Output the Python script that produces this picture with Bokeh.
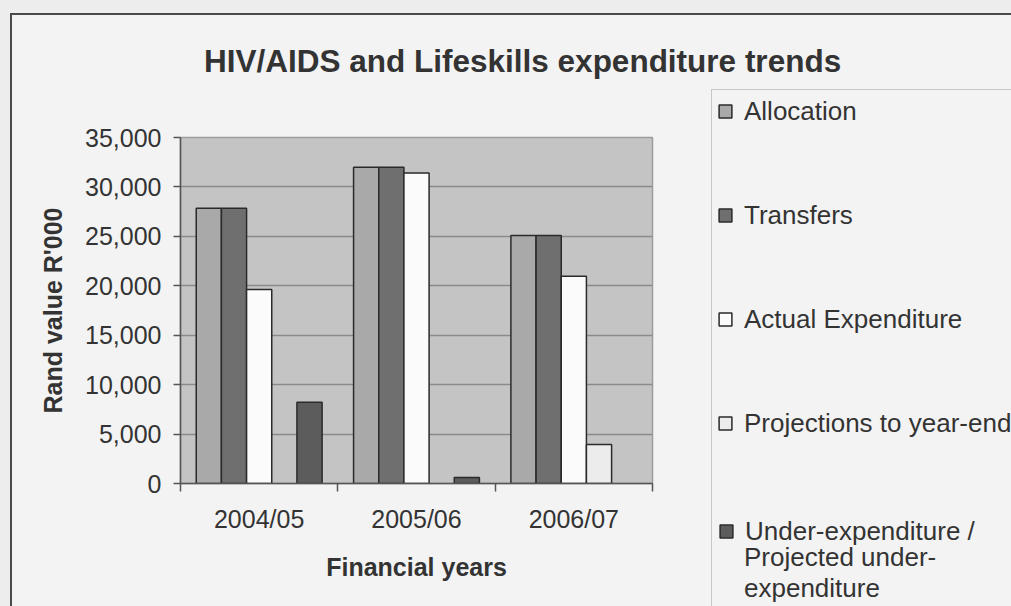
import numpy as np
from bokeh.plotting import figure
from bokeh.layouts import row, column
from bokeh.models import (ColumnDataSource, FixedTicker, NumeralTickFormatter,
                          Legend, LegendItem, Range1d, Div)
from bokeh.transform import dodge
from bokeh.embed import file_html
from bokeh.resources import INLINE

# ---------------- data ----------------
title_text = "HIV/AIDS and Lifeskills expenditure trends"
years = ["2004/05", "2005/06", "2006/07"]
allocation = [27850, 32000, 25090]
transfers = [27850, 32000, 25090]
actual_expenditure = [19620, 31400, 20970]
projections = [np.nan, np.nan, 3950]
under_expenditure = [8230, 600, np.nan]
series_labels = ["Allocation", "Transfers", "Actual Expenditure",
                 "Projections to year-end", "Under-expenditure /"]
last_label_rest = "Projected under-\nexpenditure"
y_ticks = [0, 5000, 10000, 15000, 20000, 25000, 30000, 35000]

# ---------------- styling ----------------
FONT = "Liberation Sans"
TXT = "#333333"
CHART_BG = "#f3f3f3"
series_cols = ["allocation", "transfers", "actual", "projections", "under"]
series_fill = ["#a9a9a9", "#6f6f6f", "#fbfbfb", "#ececec", "#5c5c5c"]
bar_w = 0.16
offsets = [-2 * bar_w, -bar_w, 0.0, bar_w, 2 * bar_w]

xc = [i + 0.5 for i in range(len(years))]
src = ColumnDataSource(dict(
    x=xc,
    allocation=np.array(allocation, dtype=float),
    transfers=np.array(transfers, dtype=float),
    actual=np.array(actual_expenditure, dtype=float),
    projections=np.array(projections, dtype=float),
    under=np.array(under_expenditure, dtype=float),
))

# ---------------- title ----------------
title_div = Div(text=title_text, width=999, height=74, margin=0,
                styles={"box-sizing": "border-box", "padding-left": "192px",
                        "padding-top": "28px", "font-family": FONT,
                        "font-size": "31.5px", "font-weight": "bold",
                        "line-height": "36px", "color": TXT,
                        "white-space": "nowrap", "background-color": CHART_BG})

# ---------------- main chart ----------------
p = figure(width=697, height=517, output_backend="svg", toolbar_location=None,
           x_range=Range1d(0, len(years)), y_range=Range1d(0, 35000),
           min_border_left=168, min_border_right=57,
           min_border_top=48, min_border_bottom=123)
p.frame_align = False
p.background_fill_color = "#c4c4c4"
p.border_fill_color = CHART_BG
p.outline_line_color = "#9c9c9c"
p.outline_line_width = 1.5

for col, fill, off in zip(series_cols, series_fill, offsets):
    p.vbar(x=dodge("x", off), top=col, bottom=0, width=bar_w, source=src,
           fill_color=fill, line_color="#2a2a2a", line_width=1.5)

p.xgrid.visible = False
p.ygrid.ticker = FixedTicker(ticks=y_ticks)
p.ygrid.grid_line_color = "#8a8a8a"
p.ygrid.grid_line_width = 1.5

ya = p.yaxis[0]
ya.ticker = FixedTicker(ticks=y_ticks)
ya.formatter = NumeralTickFormatter(format="0,0")
ya.axis_label = "Rand value R'000"
ya.axis_label_text_font = FONT
ya.axis_label_text_font_size = "25px"
ya.axis_label_text_font_style = "bold"
ya.axis_label_text_color = TXT
ya.axis_label_standoff = 15
ya.major_label_text_font = FONT
ya.major_label_text_font_size = "25px"
ya.major_label_text_color = TXT
ya.major_label_standoff = 12
ya.major_tick_out = 7
ya.major_tick_in = 0
ya.minor_tick_line_color = None
ya.axis_line_color = "#555555"
ya.axis_line_width = 1.5
ya.major_tick_line_color = "#555555"
ya.major_tick_line_width = 1.5

xa = p.xaxis[0]
xa.ticker = FixedTicker(ticks=xc, minor_ticks=list(range(len(years) + 1)))
xa.major_label_overrides = {c: y for c, y in zip(xc, years)}
xa.axis_label = "Financial years"
xa.axis_label_text_font = FONT
xa.axis_label_text_font_size = "25px"
xa.axis_label_text_font_style = "bold"
xa.axis_label_text_color = TXT
xa.axis_label_standoff = 17
xa.major_label_text_font = FONT
xa.major_label_text_font_size = "25px"
xa.major_label_text_color = TXT
xa.major_label_standoff = 13
xa.major_tick_out = 0
xa.major_tick_in = 0
xa.minor_tick_out = 8
xa.minor_tick_in = 0
xa.minor_tick_line_color = "#555555"
xa.minor_tick_line_width = 1.5
xa.axis_line_color = "#555555"
xa.axis_line_width = 1.5

# ---------------- legend panel ----------------
q = figure(width=302, height=517, output_backend="svg", toolbar_location=None,
           x_range=p.x_range, y_range=p.y_range,
           x_axis_location=None, y_axis_location=None, min_border=0)
q.frame_align = False
q.grid.visible = False
q.outline_line_color = None
q.background_fill_color = CHART_BG
q.border_fill_color = CHART_BG

proxies = []
for col, fill, off in zip(series_cols, series_fill, offsets):
    r = q.vbar(x=dodge("x", off), top=col, bottom=0, width=bar_w, source=src,
               fill_color=fill, line_color="#2a2a2a", line_width=1.5, visible=False)
    proxies.append(r)
blank = q.vbar(x=dodge("x", offsets[-1]), top="under", bottom=0, width=bar_w, source=src,
               fill_alpha=0, line_alpha=0, visible=False)

common = dict(margin=0, padding=5, spacing=72, label_height=32, glyph_width=16,
              glyph_height=16, label_standoff=11, label_text_font=FONT,
              label_text_font_size="26px", label_text_color=TXT,
              inactive_fill_alpha=0.0, click_policy="none")

# boxed legend: first four entries + continuation lines of the fifth
items_box = [LegendItem(label=lab, renderers=[r])
             for lab, r in zip(series_labels[:4], proxies[:4])]
items_box.append(LegendItem(label="\n" + last_label_rest, renderers=[blank]))
legend_box = Legend(items=items_box, location=(2, -4),
                    border_line_color="#9c9c9c", border_line_width=1.5,
                    background_fill_color=CHART_BG, background_fill_alpha=1.0,
                    **common)
q.add_layout(legend_box)

# first line of the fifth entry with its swatch
legend_last = Legend(items=[LegendItem(label=series_labels[4], renderers=[proxies[4]])],
                     location=(9, 59), border_line_color=None,
                     background_fill_alpha=0.0, **common)
q.add_layout(legend_last)

layout = column(title_div, row(p, q, spacing=0), spacing=0)
layout.margin = (13, 0, 0, 10)
layout.styles = {"border-left": "2px solid #4a4a4a", "border-top": "2px solid #4a4a4a",
                 "background-color": CHART_BG}

html = file_html(layout, INLINE)
html = html.replace("<head>", "<head>\n<style>html,body{margin:0;padding:0;background:#ededed;overflow:hidden}</style>", 1)
open("out.html", "w").write(html)
